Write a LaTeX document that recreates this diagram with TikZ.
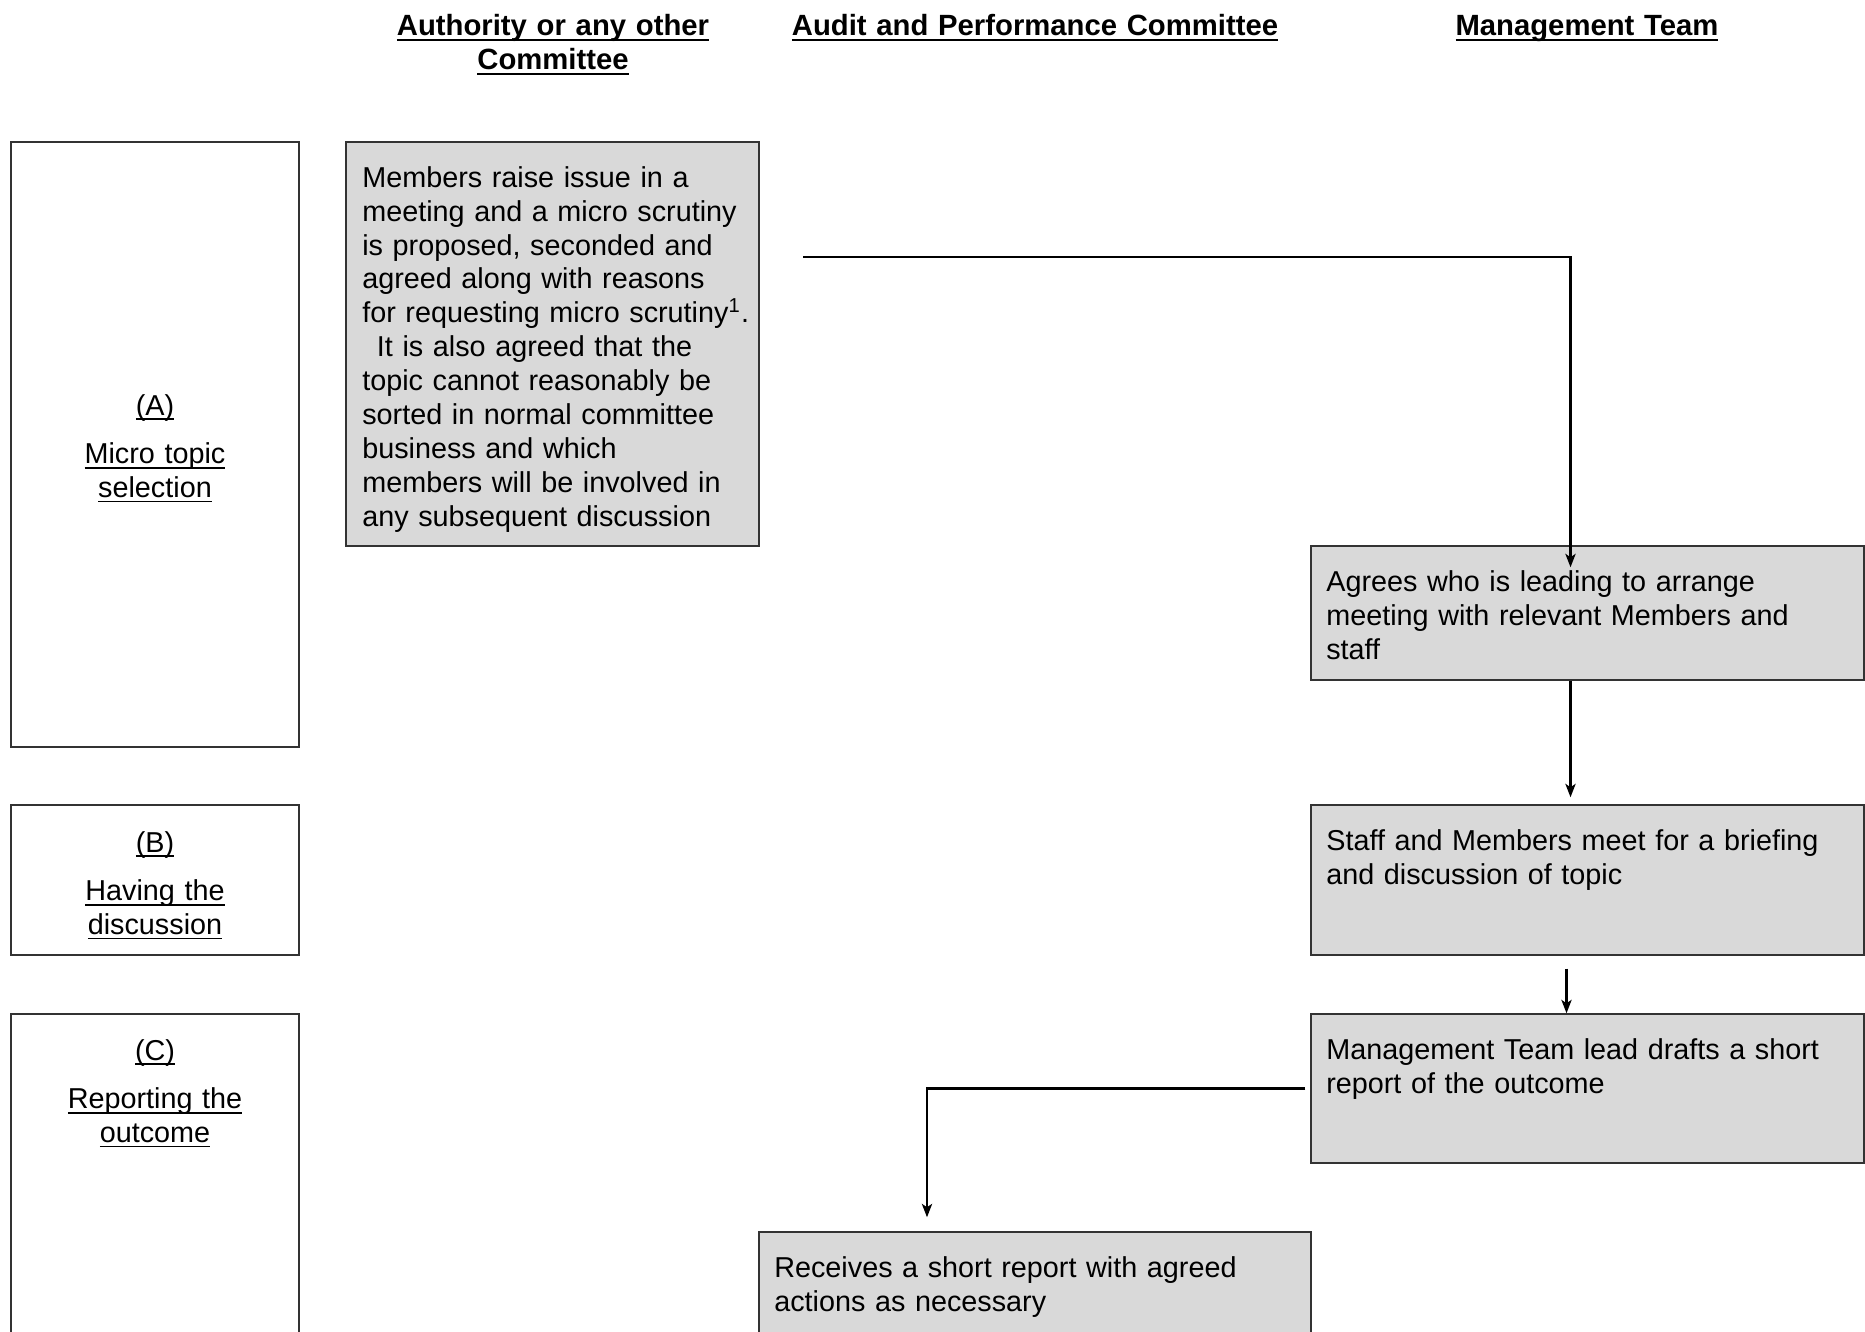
\documentclass[tikz,border=0pt]{standalone}
\usepackage{fontspec}
\setmainfont{Liberation Sans}
\usetikzlibrary{arrows.meta,fit}

\newsavebox{\ulsave}
\newcommand{\ulbox}[1]{\leavevmode\sbox\ulsave{#1}\hbox{\rlap{\rule[-1.9pt]{\wd\ulsave}{0.65pt}}\usebox\ulsave}}

\begin{document}
\begin{tikzpicture}[->, >={Stealth[length=5.5pt,width=4.2pt,inset=1.4pt]}, x=0.41pt, y=-0.41pt, line width=0.85pt,
    every node/.style={font=\fontsize{11.8}{13.9}\selectfont},
    lane/.style={draw=black!80, line width=0.5pt, inner sep=0pt},
    task/.style={draw=black!80, fill=gray!30, line width=0.6pt, inner sep=0pt},
    txt/.style={anchor=base west, inner sep=0pt, align=left, text width=#1},
    tag/.style={anchor=base, inner sep=0pt, align=center, text width=100pt},
    head/.style={anchor=base, inner sep=0pt, align=center, text width=#1,
        font=\fontsize{12}{13.9}\selectfont\bfseries}]
    \useasboundingbox (0,0) rectangle (1865,1332);

    % column headings
    \node[head=150pt] (hAuth) at (553,36) {\ulbox{Authority or any other}\\\ulbox{Committee}};
    \node[head=220pt] (hAudit) at (1035,36) {\ulbox{Audit and Performance Committee}};
    \node[head=150pt] (hMT) at (1587,36) {\ulbox{Management Team}};

    % stages
    \node[lane, fit={(11,142) (299,747)}] (laneA) {};
    \node[lane, fit={(11,805) (299,955)}] (laneB) {};
    \node[lane, fit={(11,1014) (299,1345)}] (laneC) {};
    \node[tag] (tagA) at ([shift={(0,274)}]laneA.north) {\ulbox{(A)}\\[6pt]\ulbox{Micro topic}\\\ulbox{selection}};
    \node[tag] (tagB) at ([shift={(0,48)}]laneB.north) {\ulbox{(B)}\\[6pt]\ulbox{Having the}\\\ulbox{discussion}};
    \node[tag] (tagC) at ([shift={(0,47)}]laneC.north) {\ulbox{(C)}\\[6pt]\ulbox{Reporting the}\\\ulbox{outcome}};

    % steps
    \node[task, fit={(346,142) (759,546)}] (members) {};
    \node[task, fit={(1311,546) (1864,680)}] (agree) {};
    \node[task, fit={(1311,805) (1864,955)}] (staff) {};
    \node[task, fit={(1311,1014) (1864,1163)}] (lead) {};
    \node[task, fit={(759,1232) (1311,1345)}] (recv) {};

    \node[txt=165pt] (membersT) at ([shift={(16,46)}]members.north west)
        {Members raise issue in a\\meeting and a micro scrutiny\\is proposed, seconded and\\agreed along with reasons\\for requesting micro scrutiny\textsuperscript{1}.\\\hspace*{6pt}It is also agreed that the\\topic cannot reasonably be\\sorted in normal committee\\business and which\\members will be involved in\\any subsequent discussion};
    \node[txt=220pt] (agreeT) at ([shift={(15,46)}]agree.north west)
        {Agrees who is leading to arrange\\meeting with relevant Members and\\staff};
    \node[txt=220pt] (staffT) at ([shift={(15,46)}]staff.north west)
        {Staff and Members meet for a briefing\\and discussion of topic};
    \node[txt=220pt] (leadT) at ([shift={(15,46)}]lead.north west)
        {Management Team lead drafts a short\\report of the outcome};
    \node[txt=220pt] (recvT) at ([shift={(15,46)}]recv.north west)
        {Receives a short report with agreed\\actions as necessary};

    % flow
    \coordinate (mOut) at (803,257);
    \draw (mOut) -| ([shift={(-17,22)}]agree.north);
    \draw ([shift={(-17,0)}]agree.south) -- ([shift={(-17,-7)}]staff.north);
    \draw ([shift={(-21,13)}]staff.south) -- ([shift={(-21,0)}]lead.north);
    \draw ([shift={(-5,0)}]lead.west) -| ([shift={(-108,-14)}]recv.north);
\end{tikzpicture}
\end{document}
